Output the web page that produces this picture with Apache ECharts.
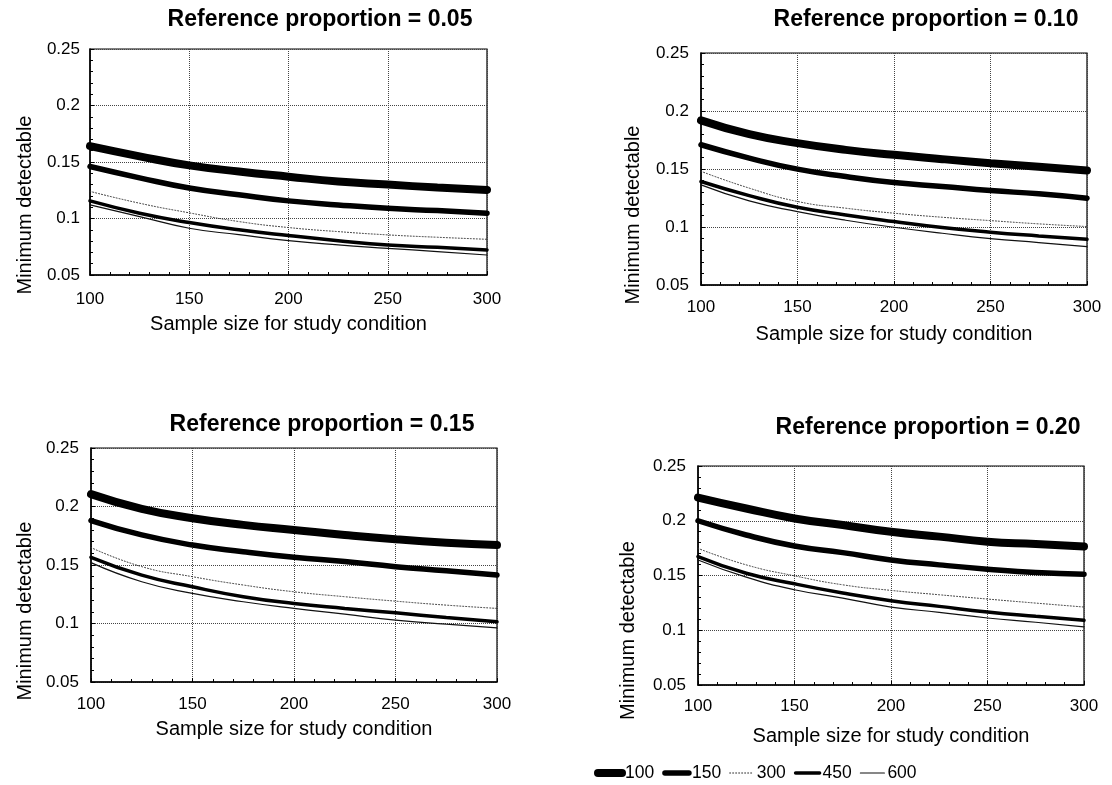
<!DOCTYPE html>
<html>
<head>
<meta charset="utf-8">
<script src="https://cdn.jsdelivr.net/npm/echarts@6/dist/echarts.min.js"></script>
<style>
html,body{margin:0;padding:0;background:#fff;}
#chart{width:1112px;height:785px;}
</style>
</head>
<body>
<div id="chart"></div>
<script>
const xValues = [100, 125, 150, 175, 200, 225, 250, 275, 300];
const seriesNames = ['100', '150', '300', '450', '600'];
const panelTitles = ['Reference proportion = 0.05', 'Reference proportion = 0.10', 'Reference proportion = 0.15', 'Reference proportion = 0.20'];
const xAxisName = 'Sample size for study condition';
const yAxisName = 'Minimum detectable';

// Reference proportion = 0.05
const p05_100 = [0.164, 0.155, 0.147, 0.1416, 0.137, 0.1327, 0.130, 0.1274, 0.1253];
const p05_150 = [0.146, 0.136, 0.127, 0.121, 0.1156, 0.112, 0.109, 0.107, 0.1047];
const p05_300 = [0.124, 0.1135, 0.105, 0.0973, 0.092, 0.0884, 0.0855, 0.0834, 0.0816];
const p05_450 = [0.1156, 0.1047, 0.0964, 0.090, 0.0849, 0.0804, 0.0766, 0.0745, 0.0722];
const p05_600 = [0.112, 0.1017, 0.0914, 0.0857, 0.0804, 0.0766, 0.0736, 0.0707, 0.0677];
// Reference proportion = 0.10
const p10_100 = [0.1919, 0.180, 0.1723, 0.1665, 0.1622, 0.1585, 0.155, 0.152, 0.1487];
const p10_150 = [0.1709, 0.1594, 0.1499, 0.1435, 0.1383, 0.1349, 0.1314, 0.1286, 0.1248];
const p10_300 = [0.148, 0.1335, 0.122, 0.1162, 0.1119, 0.1084, 0.1055, 0.1027, 0.1004];
const p10_450 = [0.1392, 0.127, 0.117, 0.1104, 0.1047, 0.0995, 0.0955, 0.0923, 0.0894];
const p10_600 = [0.1363, 0.1225, 0.1133, 0.1058, 0.0998, 0.0946, 0.09, 0.0866, 0.0831];
// Reference proportion = 0.15
const p15_100 = [0.2106, 0.198, 0.19, 0.1843, 0.18, 0.1757, 0.172, 0.1691, 0.1671];
const p15_150 = [0.188, 0.1757, 0.1671, 0.1614, 0.1566, 0.1529, 0.1486, 0.1451, 0.1414];
const p15_300 = [0.1649, 0.1486, 0.14, 0.1329, 0.1271, 0.1229, 0.1191, 0.1157, 0.1129];
const p15_450 = [0.1566, 0.1414, 0.1314, 0.1229, 0.1171, 0.1129, 0.1091, 0.1051, 0.1014];
const p15_600 = [0.152, 0.1357, 0.1257, 0.1186, 0.1129, 0.108, 0.1029, 0.0994, 0.0963];
// Reference proportion = 0.20
const p20_100 = [0.2212, 0.2112, 0.2021, 0.1961, 0.19, 0.1855, 0.1809, 0.1788, 0.1764];
const p20_150 = [0.2, 0.187, 0.177, 0.1709, 0.1642, 0.1597, 0.1558, 0.1527, 0.1512];
const p20_300 = [0.1748, 0.1597, 0.1497, 0.1415, 0.1364, 0.1324, 0.1285, 0.1248, 0.1212];
const p20_450 = [0.1673, 0.1521, 0.1424, 0.134, 0.127, 0.1218, 0.1167, 0.1127, 0.1091];
const p20_600 = [0.1642, 0.1485, 0.137, 0.1294, 0.1212, 0.1164, 0.1112, 0.1073, 0.103];

const panelData = [
  [p05_100, p05_150, p05_300, p05_450, p05_600],
  [p10_100, p10_150, p10_300, p10_450, p10_600],
  [p15_100, p15_150, p15_300, p15_450, p15_600],
  [p20_100, p20_150, p20_300, p20_450, p20_600]
];

const FONT = '"Liberation Sans", Arial, sans-serif';

// layout (pixels)
const grids = [
  {left: 90, top: 49, width: 397, height: 226},
  {left: 701, top: 53, width: 386, height: 232},
  {left: 91, top: 448, width: 406, height: 234},
  {left: 698, top: 466, width: 386, height: 219}
];
const titlePos = [[320, 8], [926, 8], [322, 413], [928, 416]];
const xNameGap = [39, 39, 37, 41];
const xLabelMargin = [16, 14, 14, 13];
const yNameGap = [55, 58, 56, 60];
const yNameShift = [86, 92, 92, 110];
const yLabelMargin = [10, 12, 12, 12];

const lineStyles = [
  {width: 8, type: 'solid', color: '#000'},
  {width: 5.5, type: 'solid', color: '#000'},
  {width: 1, type: [1, 2], color: '#333'},
  {width: 3.5, type: 'solid', color: '#000'},
  {width: 1.2, type: 'solid', color: '#111'}
];

const option = {
  backgroundColor: '#fff',
  animation: false,
  textStyle: {fontFamily: FONT, color: '#000'},
  title: panelTitles.map((t, i) => ({
    text: t,
    left: titlePos[i][0],
    top: titlePos[i][1],
    textAlign: 'center',
    padding: 0,
    textStyle: {fontFamily: FONT, fontSize: 23, fontWeight: 'bold', color: '#000'}
  })),
  legend: {
    data: seriesNames.map((n, i) => ({
      name: n,
      itemStyle: {opacity: 0},
      lineStyle: {width: lineStyles[i].width, type: lineStyles[i].type, color: lineStyles[i].color, cap: 'round'}
    })),
    left: 594,
    top: 764,
    itemWidth: 24,
    itemHeight: 14,
    itemGap: 8,
    padding: 0,
    textStyle: {fontFamily: FONT, fontSize: 17.5, color: '#000', padding: [0, 0, 0, -2]}
  },
  grid: grids.map(g => Object.assign({show: true, borderColor: '#000', borderWidth: 1.2, backgroundColor: '#fff'}, g)),
  xAxis: grids.map((g, i) => ({
    type: 'value',
    gridIndex: i,
    min: 100, max: 300, interval: 50,
    name: xAxisName,
    nameLocation: 'middle',
    nameGap: xNameGap[i],
    nameTextStyle: {fontFamily: FONT, fontSize: 20, color: '#000'},
    axisLine: {show: true, onZero: false, lineStyle: {color: '#000', width: 1.5}},
    axisTick: {show: true, inside: true, length: 4, lineStyle: {color: '#000'}},
    minorTick: {show: true, splitNumber: 5, length: 3, lineStyle: {color: '#000'}},
    axisLabel: {fontFamily: FONT, fontSize: 17, color: '#000', margin: xLabelMargin[i]},
    splitLine: {show: true, lineStyle: {color: '#444', type: 'dotted', width: 1}}
  })),
  yAxis: grids.map((g, i) => ({
    type: 'value',
    gridIndex: i,
    min: 0.05, max: 0.25, interval: 0.05,
    name: yAxisName,
    nameLocation: 'middle',
    nameRotate: 90,
    nameGap: yNameGap[i],
    nameTextStyle: {fontFamily: FONT, fontSize: 20, color: '#000', padding: [0, yNameShift[i], 0, 0]},
    axisLine: {show: true, onZero: false, lineStyle: {color: '#000', width: 1.5}},
    axisTick: {show: true, inside: true, length: 4, lineStyle: {color: '#000'}},
    minorTick: {show: true, splitNumber: 5, length: 3, lineStyle: {color: '#000'}},
    axisLabel: {fontFamily: FONT, fontSize: 17, color: '#000', margin: yLabelMargin[i]},
    splitLine: {show: true, lineStyle: {color: '#444', type: 'dotted', width: 1}}
  })),
  series: []
};

panelData.forEach((arrs, pi) => {
  arrs.forEach((vals, si) => {
    option.series.push({
      type: 'line',
      name: seriesNames[si],
      xAxisIndex: pi,
      yAxisIndex: pi,
      data: xValues.map((x, k) => [x, vals[k]]),
      smooth: true,
      symbol: 'none',
      lineStyle: Object.assign({cap: 'round'}, lineStyles[si]),
      itemStyle: {color: '#000'},
      z: 5 - si
    });
  });
});

const chart = echarts.init(document.getElementById('chart'), null, {renderer: 'canvas'});
chart.setOption(option);
</script>
</body>
</html>
